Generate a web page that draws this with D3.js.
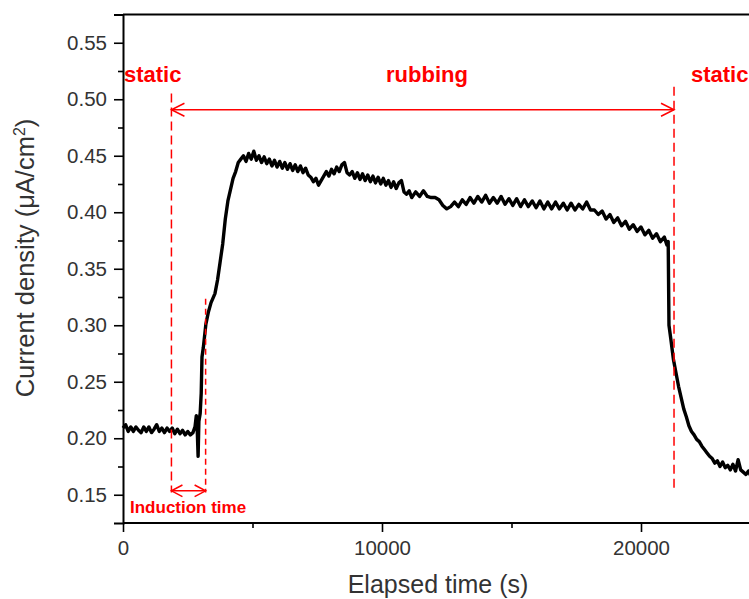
<!DOCTYPE html>
<html><head><meta charset="utf-8">
<script src="https://cdn.jsdelivr.net/npm/d3@7"></script>
<style>
html,body{margin:0;padding:0;background:#fff;}
svg{display:block;font-family:Arial,"Liberation Sans",sans-serif;}
</style></head>
<body><svg id="chart" width="749" height="599"></svg>
<script>
// ---- data ----
const timeS = [0,100,200,300,400,500,600,700,800,900,1000,1100,1200,1300,1400,1500,1600,1700,1800,1900,2000,2100,2200,2300,2400,2500,2600,2700,2780,2830,2860,2900,2930,2980,3020,3050,3100,3200,3300,3400,3550,3650,3750,3850,3950,4050,4150,4250,4350,4450,4550,4650,4750,4850,4950,5050,5150,5250,5350,5450,5550,5650,5750,5850,5950,6050,6150,6250,6350,6450,6550,6650,6750,6850,6950,7050,7150,7250,7350,7450,7550,7650,7750,7850,7950,8050,8150,8250,8350,8450,8550,8650,8750,8850,8950,9050,9150,9250,9350,9450,9550,9650,9750,9850,9950,10050,10150,10250,10350,10450,10550,10650,10750,10850,10950,11050,11150,11300,11450,11600,11750,11900,12050,12200,12350,12500,12650,12800,12950,13100,13250,13400,13550,13700,13850,14000,14150,14300,14450,14600,14750,14900,15050,15200,15350,15500,15650,15800,15950,16100,16250,16400,16550,16700,16850,17000,17150,17300,17450,17600,17750,17900,18050,18200,18350,18500,18650,18800,18950,19100,19250,19400,19550,19700,19850,20000,20150,20300,20450,20600,20750,20900,21000,21050,21080,21150,21250,21350,21450,21550,21650,21750,21850,21950,22050,22150,22250,22350,22450,22550,22650,22750,22850,22950,23050,23150,23250,23350,23450,23550,23650,23750,23850,23950,24050,24150,24250];
const currentDensity = [0.209,0.212,0.206,0.210,0.206,0.210,0.207,0.205,0.210,0.206,0.210,0.205,0.208,0.212,0.206,0.209,0.205,0.209,0.206,0.209,0.204,0.208,0.204,0.207,0.203,0.206,0.203,0.205,0.210,0.220,0.212,0.184,0.215,0.222,0.240,0.272,0.280,0.301,0.312,0.320,0.328,0.340,0.356,0.372,0.394,0.410,0.420,0.430,0.436,0.444,0.447,0.450,0.445,0.452,0.447,0.454,0.446,0.450,0.444,0.449,0.443,0.447,0.441,0.446,0.440,0.445,0.439,0.444,0.438,0.443,0.437,0.442,0.436,0.441,0.435,0.439,0.433,0.431,0.427,0.430,0.424,0.428,0.432,0.436,0.432,0.438,0.434,0.440,0.436,0.442,0.444,0.435,0.433,0.436,0.430,0.435,0.429,0.434,0.428,0.433,0.427,0.432,0.426,0.431,0.425,0.430,0.424,0.428,0.422,0.427,0.421,0.426,0.428,0.418,0.416,0.419,0.413,0.418,0.414,0.419,0.414,0.413,0.413,0.411,0.406,0.403,0.405,0.409,0.405,0.411,0.407,0.413,0.408,0.414,0.409,0.415,0.408,0.413,0.408,0.414,0.407,0.412,0.406,0.412,0.405,0.411,0.405,0.410,0.404,0.410,0.403,0.409,0.403,0.409,0.403,0.408,0.402,0.408,0.402,0.407,0.403,0.409,0.402,0.402,0.398,0.401,0.394,0.398,0.391,0.395,0.388,0.392,0.385,0.389,0.383,0.387,0.380,0.384,0.377,0.381,0.374,0.378,0.371,0.374,0.300,0.288,0.270,0.258,0.246,0.236,0.226,0.219,0.211,0.206,0.203,0.199,0.197,0.193,0.190,0.187,0.184,0.182,0.178,0.180,0.175,0.179,0.174,0.176,0.172,0.177,0.171,0.181,0.172,0.170,0.168,0.171,0.166];
const xMajorTicks = [0,10000,20000];
const xMinorTicks = [5000,15000];
const yMajorTicks = [0.15,0.20,0.25,0.30,0.35,0.40,0.45,0.50,0.55];
const yMinorTicks = [0.175,0.225,0.275,0.325,0.375,0.425,0.475,0.525];
const xTitle = "Elapsed time (s)";
const rubbingStart = 1870, rubbingEnd = 21275, inductionEnd = 3190;
const phaseLabels = ["static","rubbing","static"];

// ---- chart ----
const svg = d3.select("#chart");
const x = d3.scaleLinear().domain([0,25000]).range([123,770.5]);
const y = d3.scaleLinear().domain([0.125,0.575]).range([523,14.5]);
const red = "#ff0000";

svg.append("line").attr("x1",123).attr("x2",749).attr("y1",y(0.575)).attr("y2",y(0.575))
  .attr("stroke","#000").attr("stroke-width",2);

const ax = svg.append("g").attr("transform",`translate(0,${y(0.125)})`)
  .call(d3.axisBottom(x).tickValues(xMajorTicks).tickSize(9).tickPadding(8).tickFormat(d3.format("d")));
svg.append("g").attr("transform",`translate(0,${y(0.125)})`)
  .call(d3.axisBottom(x).tickValues(xMinorTicks).tickSize(5).tickFormat(""))
  .select(".domain").remove();
svg.append("g").attr("transform",`translate(${x(0)},0)`)
  .call(d3.axisLeft(y).tickValues(yMajorTicks).tickSize(9).tickPadding(7).tickFormat(d3.format(".2f")));
svg.append("g").attr("transform",`translate(${x(0)},0)`)
  .call(d3.axisLeft(y).tickValues(yMinorTicks).tickSize(5).tickFormat(""))
  .select(".domain").remove();
svg.selectAll(".domain").attr("stroke","#000").attr("stroke-width",2);
svg.selectAll(".tick line").attr("stroke","#000").attr("stroke-width",1.6);
svg.selectAll(".tick text").attr("font-size",20.5).attr("fill","#333")
  .attr("font-family",'Arial,"Liberation Sans",sans-serif');
ax.select(".domain").attr("d",`M${x(0)},0H749`);

svg.append("text").attr("x",438).attr("y",593).attr("text-anchor","middle")
  .attr("font-size",25).attr("fill","#333").text(xTitle);
const yt = svg.append("text").attr("transform","translate(34,258) rotate(-90)")
  .attr("text-anchor","middle").attr("font-size",25.5).attr("fill","#333");
yt.append("tspan").text("Current density (\u03bcA/cm");
yt.append("tspan").attr("font-size",16).attr("dy",-9).text("2");
yt.append("tspan").attr("dy",9).text(")");

const pts = timeS.map((t,i)=>[t,currentDensity[i]]);
svg.append("path").datum(pts)
  .attr("d",d3.line().x(d=>x(d[0])).y(d=>y(d[1])))
  .attr("fill","none").attr("stroke","#000").attr("stroke-width",3.4).attr("stroke-linejoin","round");

function vdash(t,v0,v1,dash){
  svg.append("line").attr("x1",x(t)).attr("x2",x(t)).attr("y1",y(v0)).attr("y2",y(v1))
    .attr("stroke",red).attr("stroke-width",1.5).attr("stroke-dasharray",dash);
}
vdash(rubbingStart,0.505,0.152,"9,5");
vdash(rubbingEnd,0.511,0.152,"9,5");
vdash(inductionEnd,0.3235,0.152,"6,4");

function dblArrow(t0,t1,v,len,half){
  const yy=y(v), x0=x(t0), x1=x(t1);
  svg.append("line").attr("x1",x0).attr("x2",x1).attr("y1",yy).attr("y2",yy)
    .attr("stroke",red).attr("stroke-width",1.5);
  svg.append("path").attr("d",`M${x0+len},${yy-half}L${x0},${yy}L${x0+len},${yy+half}`)
    .attr("fill","none").attr("stroke",red).attr("stroke-width",1.5);
  svg.append("path").attr("d",`M${x1-len},${yy-half}L${x1},${yy}L${x1-len},${yy+half}`)
    .attr("fill","none").attr("stroke",red).attr("stroke-width",1.5);
}
dblArrow(rubbingStart,rubbingEnd,0.4907,13,6.5);
dblArrow(rubbingStart,inductionEnd,0.1535,11,5.8);

svg.append("text").attr("x",124).attr("y",82).attr("font-size",22).attr("font-weight","bold")
  .attr("fill",red).text(phaseLabels[0]);
svg.append("text").attr("x",427).attr("y",82).attr("font-size",22).attr("font-weight","bold")
  .attr("fill",red).attr("text-anchor","middle").text(phaseLabels[1]);
svg.append("text").attr("x",691).attr("y",82).attr("font-size",22).attr("font-weight","bold")
  .attr("fill",red).text(phaseLabels[2]);
svg.append("text").attr("x",130).attr("y",513).attr("font-size",17).attr("font-weight","bold")
  .attr("fill",red).text("Induction time");
</script>
</body></html>
